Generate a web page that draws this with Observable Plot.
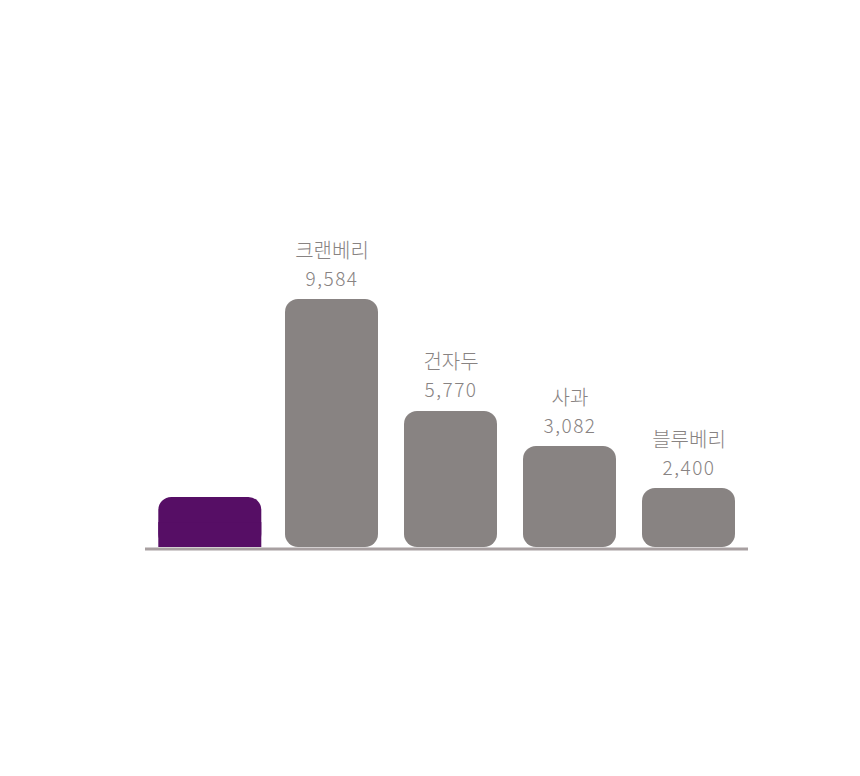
<!DOCTYPE html>
<html><head><meta charset="utf-8">
<script src="https://cdn.jsdelivr.net/npm/d3@7"></script>
<script src="https://cdn.jsdelivr.net/npm/@observablehq/plot@0.6"></script>
<style>
body{margin:0;background:#fff}
#chart svg{display:block}
#chart svg g[aria-label="text"].num text{letter-spacing:1.5px}
</style>
</head><body><div id="chart"></div>
<script>
// Categories (first, highlighted bar carries no label in the reference)
const categories = ["강조", "크랜베리", "건자두", "사과", "블루베리"];
// Bar heights as drawn (same units as the labels, cranberry = 9,584)
const barHeights = [1930, 9584, 5256, 3903, 2280];
// Printed label values
const labelValues = [null, 9584, 5770, 3082, 2400];
const highlight = [true, false, false, false, false];

const fmt = d3.format(",");
const data = categories.map((c, i) => ({
  category: c,
  height: barHeights[i],
  value: labelValues[i] == null ? null : fmt(labelValues[i]),
  highlight: highlight[i]
}));
const hi = data.filter(d => d.highlight);
const rest = data.filter(d => !d.highlight);

const chart = Plot.plot({
  width: 860, height: 776,
  marginLeft: 145, marginRight: 112, marginTop: 299, marginBottom: 229,
  x: {domain: categories, paddingInner: 0.2207, paddingOuter: 0.137, align: 0.6, axis: null},
  y: {domain: [0, 9584], axis: null},
  style: {fontFamily: "'Noto Sans CJK KR', 'Noto Sans', sans-serif", background: "#fff"},
  marks: [
    Plot.ruleY([0], {stroke: "#a8a0a1", strokeWidth: 3, dy: 1.5}),
    Plot.barY(rest, {x: "category", y: "height", fill: "#888382", rx: 13}),
    Plot.barY(hi, {x: "category", y: "height", fill: "#560e65", rx: 13, insetLeft: -7.7, insetRight: -2.3}),
    Plot.barY(hi, {x: "category", y: d => d.height / 2, fill: "#560e65", insetLeft: -7.7, insetRight: -2.3}),
    Plot.text(rest, {x: "category", y: "height", text: "category", lineAnchor: "bottom", dy: -42,
      fontSize: 20, fontWeight: 300, fill: "#888382"}),
    Plot.text(rest, {x: "category", y: "height", text: "value", lineAnchor: "bottom", dy: -14,
      fontSize: 19, fontWeight: 300, fill: "#888382"})
  ]
});
// mark the numeric label group for letter spacing
const groups = chart.querySelectorAll('g[aria-label="text"]');
if (groups.length) groups[groups.length - 1].classList.add("num");
document.getElementById("chart").appendChild(chart);
</script>
</body></html>
